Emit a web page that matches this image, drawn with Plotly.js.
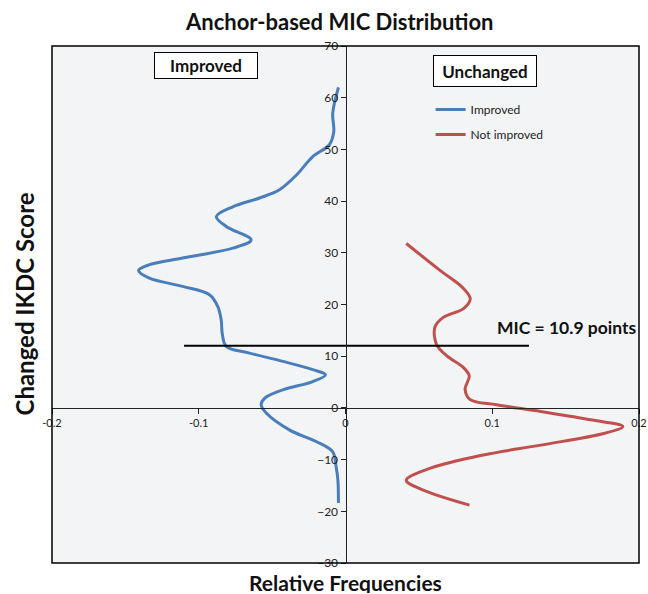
<!DOCTYPE html>
<html>
<head>
<meta charset="utf-8">
<script src="https://cdn.plot.ly/plotly-3.0.1.min.js"></script>
<style>html,body{margin:0;padding:0;background:#fff;}#chart{width:648px;height:594px;}</style>
</head>
<body>
<div id="chart"></div>
<script>
// Improved group (relative frequency, changed IKDC score)
const improvedFreq = [-0.0048,-0.0087,-0.008,-0.011,-0.0223,-0.0336,-0.045,-0.0586,-0.0768,-0.088,-0.0813,-0.0643,-0.0768,-0.111,-0.1336,-0.141,-0.1336,-0.111,-0.0927,-0.087,-0.0847,-0.084,-0.0813,-0.0654,-0.0427,-0.0223,-0.0136,-0.0223,-0.0427,-0.055,-0.0575,-0.054,-0.038,-0.020,-0.0087,-0.0064,-0.0052,-0.0048];
const improvedScore = [62.0,57.0,53.4,50.9,48.6,45.0,42.2,40.6,38.9,37.0,35.1,32.5,30.9,29.0,27.7,26.6,25.1,23.5,21.9,19.6,17.0,14.4,11.9,10.6,9.0,7.4,6.4,5.1,3.5,1.9,0.6,-1.0,-4.3,-6.5,-8.5,-11.4,-13.9,-18.4];
// Not improved group
const notImprovedFreq = [0.0414,0.0644,0.0804,0.085,0.0804,0.0666,0.0609,0.062,0.0689,0.0804,0.0843,0.0815,0.085,0.103,0.133,0.167,0.189,0.1766,0.133,0.094,0.0575,0.0414,0.053,0.0845];
const notImprovedScore = [31.8,26.6,23.1,21.1,19.2,17.5,15.6,12.3,10.1,7.8,6.2,3.6,1.6,0.6,-0.7,-2.3,-3.6,-4.9,-7.2,-9.1,-11.7,-14.0,-15.9,-18.8];
// MIC line
const micX = [-0.11, 0.125];
const micY = [12, 12];
const micLabel = "MIC = 10.9 points";
const xTicks = [-0.2,-0.1,0,0.1,0.2];
const xTickText = ["-0.2","-0.1","0","0.1","0.2"];
const yTicks = [-30,-20,-10,0,10,20,30,40,50,60,70];

const FONT = "Lato, 'Open Sans', sans-serif";

const traces = [
  {x: improvedFreq, y: improvedScore, type:'scatter', mode:'lines', name:'Improved', legendgroup:'a',
   line:{color:'#4a7ebb', width:3, shape:'spline', smoothing:1}},
  {x: notImprovedFreq, y: notImprovedScore, type:'scatter', mode:'lines', name:'Not improved', legendgroup:'b',
   line:{color:'#c0504d', width:3, shape:'spline', smoothing:1}},
  {x: micX, y: micY, type:'scatter', mode:'lines', showlegend:false,
   line:{color:'#000', width:2}, hoverinfo:'skip'}
];

const layout = {
  width:648, height:594,
  margin:{l:52, r:9, t:46, b:31},
  paper_bgcolor:'#ffffff',
  plot_bgcolor:'#f3f4f6',
  font:{family:FONT, color:'#222', size:11},
  showlegend:true,
  legend:{x:0.645, y:0.905, xanchor:'left', yanchor:'top', bgcolor:'rgba(0,0,0,0)',
          font:{family:FONT, size:12, color:'#222'}, tracegroupgap:6, itemwidth:30},
  xaxis:{range:[-0.2,0.2], tickvals:xTicks, ticktext:xTickText, anchor:'free', position:0.3,
         showline:true, linecolor:'#222', linewidth:1, ticks:'outside', ticklen:5, tickcolor:'#222',
         ticklabeloverflow:'allow',
         showgrid:false, zeroline:false, tickfont:{size:11, color:'#222', family:FONT}, fixedrange:true},
  yaxis:{range:[-30,70], tickvals:yTicks, anchor:'free', position:0.5,
         showline:true, linecolor:'#222', linewidth:1, ticks:'outside', ticklen:5, tickcolor:'#222',
         ticklabeloverflow:'allow',
         showgrid:false, zeroline:false, tickfont:{size:12, color:'#222', family:FONT}, fixedrange:true},
  shapes:[
    {type:'rect', xref:'paper', yref:'paper', x0:0, x1:1, y0:0, y1:1, line:{color:'#000', width:1.5}}
  ],
  annotations:[
    {text:'<b>Anchor-based MIC Distribution</b>', xref:'paper', yref:'paper', x:0.49, y:1, yshift:25,
     showarrow:false, font:{size:22, family:FONT, color:'#111'}, xanchor:'center', yanchor:'middle'},
    {text:'<b>Relative Frequencies</b>', xref:'paper', yref:'paper', x:0.5, y:0, yshift:-19, height:22,
     showarrow:false, font:{size:21, family:FONT, color:'#111'}, xanchor:'center', yanchor:'middle'},
    {text:'<b>Changed IKDC Score</b>', xref:'paper', yref:'paper', x:0, xshift:-28, y:0.5, yshift:0, textangle:-90,
     showarrow:false, font:{size:24, family:FONT, color:'#111'}, xanchor:'center', yanchor:'middle'},
    {text:'<b>Improved</b>', x:-0.0954, y:66.2, showarrow:false, bgcolor:'#ffffff', bordercolor:'#000', borderwidth:1,
     width:100, height:23, font:{size:17, family:FONT, color:'#111'}},
    {text:'<b>Unchanged</b>', x:0.095, y:65.2, showarrow:false, bgcolor:'#ffffff', bordercolor:'#000', borderwidth:1,
     width:100, height:28, font:{size:17, family:FONT, color:'#111'}},
    {text:'<b>'+micLabel+'</b>', x:0.1506, y:15.5, showarrow:false, font:{size:17.5, family:FONT, color:'#111'}}
  ]
};

Plotly.newPlot('chart', traces, layout, {displayModeBar:false, staticPlot:true});
</script>
</body>
</html>
